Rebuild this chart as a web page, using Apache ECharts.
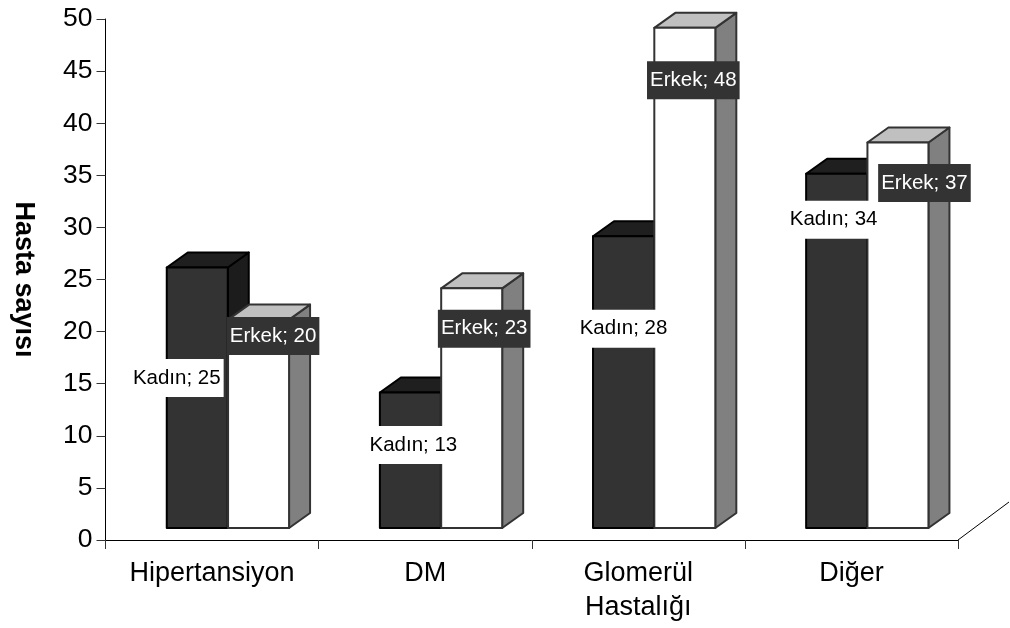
<!DOCTYPE html>
<html>
<head>
<meta charset="utf-8">
<title>Hasta sayısı</title>
<script src="https://cdn.jsdelivr.net/npm/echarts@6/dist/echarts.min.js"></script>
<style>
  html, body { margin: 0; padding: 0; background: #fff; }
  #chart { width: 1010px; height: 628px; }
</style>
</head>
<body>
<div id="chart"></div>
<script>
const categories = ['Hipertansiyon', 'DM', 'Glomerül\nHastalığı', 'Diğer']
const kadin = [25, 13, 28, 34]
const erkek = [20, 23, 48, 37]
const yTicks = { min: 0, max: 50, interval: 5 }

// layout of the fake 3d look, px
const barWidth = 61
const floorRise = 12
const depthX = 21
const depthY = 15
const kadinShift = -45.3
const erkekShift = 16
// labels were placed by hand in the original, so each one has its own nudge from the bar top
const kadinNudge = [[-20.5, 110.5], [3, 52.5], [0, 92.5], [-3, 46]]
const erkekNudge = [[14.5, 16.5], [12.5, 40.5], [8.5, 52.5], [26.5, 40.5]]

const fontFamily = '"Liberation Sans", Arial, sans-serif'

const makeBar = (values, shift, colors) => (params, api) => {
  const i = api.value(0)
  const top = api.coord([i, api.value(1)])
  const base = api.coord([i, 0])
  const x0 = top[0] + shift
  const x1 = x0 + barWidth
  const y0 = top[1] - floorRise
  const y1 = base[1] - floorRise
  const line = { stroke: colors.line, lineWidth: 2, lineJoin: 'round' }
  return {
    type: 'group',
    children: [
      {
        type: 'polygon',
        shape: { points: [[x1, y0], [x1 + depthX, y0 - depthY], [x1 + depthX, y1 - depthY], [x1, y1]] },
        style: { fill: colors.side, ...line }
      },
      {
        type: 'polygon',
        shape: { points: [[x0, y0], [x0 + depthX, y0 - depthY], [x1 + depthX, y0 - depthY], [x1, y0]] },
        style: { fill: colors.top, ...line }
      },
      {
        type: 'rect',
        shape: { x: x0, y: y0, width: barWidth, height: y1 - y0 },
        style: { fill: colors.front, ...line }
      }
    ]
  }
}

const makeLabel = (name, shift, nudge, fill, bg) => (params, api) => {
  const i = api.value(0)
  const v = api.value(1)
  const top = api.coord([i, v])
  return {
    type: 'text',
    style: {
      text: name + '; ' + v,
      x: top[0] + shift + barWidth / 2 + nudge[i][0],
      y: top[1] - floorRise + nudge[i][1],
      align: 'center',
      verticalAlign: 'middle',
      fontFamily: fontFamily,
      fontSize: 20.5,
      fill: fill,
      backgroundColor: bg,
      padding: [9, 3, 8, 3]
    }
  }
}

const toData = (values) => values.map((v, i) => [i, v])

const chart = echarts.init(document.getElementById('chart'), null, { renderer: 'canvas' })
chart.setOption({
  animation: false,
  backgroundColor: '#fff',
  grid: { left: 105.5, right: 52, top: 19, bottom: 88, containLabel: false, outerBoundsMode: 'none' },
  xAxis: {
    type: 'category',
    data: categories,
    boundaryGap: true,
    axisLine: { lineStyle: { color: '#000', width: 1 } },
    axisTick: { show: true, alignWithLabel: false, length: 9, lineStyle: { color: '#333' } },
    axisLabel: { color: '#000', fontFamily: fontFamily, fontSize: 27, lineHeight: 34, margin: 17, interval: 0 },
    splitLine: { show: false }
  },
  yAxis: {
    type: 'value',
    min: yTicks.min,
    max: yTicks.max,
    interval: yTicks.interval,
    name: 'Hasta sayısı',
    nameLocation: 'middle',
    nameRotate: -90,
    nameGap: 69,
    nameTextStyle: { color: '#000', fontFamily: fontFamily, fontSize: 27, fontWeight: 'bold' },
    axisLine: { show: true, lineStyle: { color: '#000', width: 1 } },
    axisTick: { show: true, length: 9, lineStyle: { color: '#333' } },
    axisLabel: { color: '#000', fontFamily: fontFamily, fontSize: 26.5, margin: 13 },
    splitLine: { show: false }
  },
  graphic: [
    {
      type: 'line',
      shape: { x1: 958, y1: 540, x2: 1009, y2: 502 },
      style: { stroke: '#000', lineWidth: 1 }
    }
  ],
  series: [
    {
      name: 'Kadın',
      type: 'custom',
      z: 2,
      data: toData(kadin),
      renderItem: makeBar(kadin, kadinShift, { front: '#333333', top: '#1f1f1f', side: '#1c1c1c', line: '#000' })
    },
    {
      name: 'Erkek',
      type: 'custom',
      z: 3,
      data: toData(erkek),
      renderItem: makeBar(erkek, erkekShift, { front: '#ffffff', top: '#c0c0c0', side: '#808080', line: '#333333' })
    },
    {
      name: 'Kadın etiket',
      type: 'custom',
      z: 4,
      data: toData(kadin),
      renderItem: makeLabel('Kadın', kadinShift, kadinNudge, '#000', '#fff')
    },
    {
      name: 'Erkek etiket',
      type: 'custom',
      z: 5,
      data: toData(erkek),
      renderItem: makeLabel('Erkek', erkekShift, erkekNudge, '#fff', '#333333')
    }
  ]
})
</script>
</body>
</html>
